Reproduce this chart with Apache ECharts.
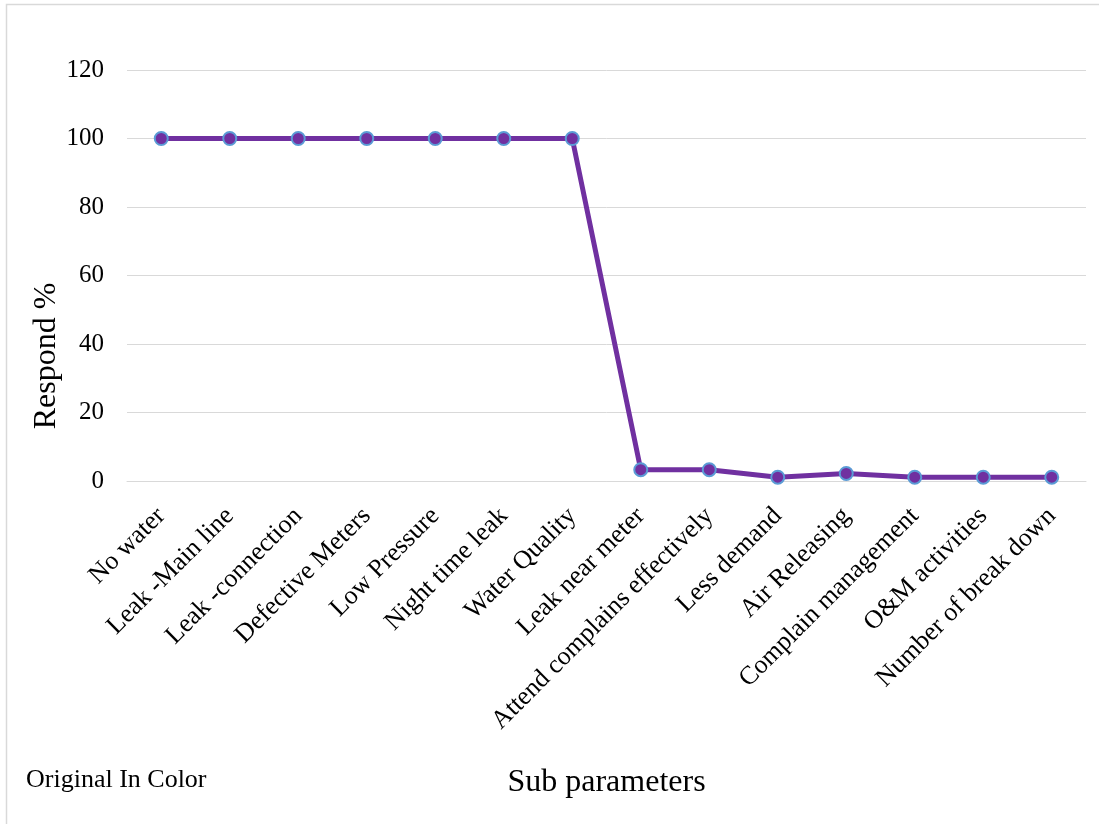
<!DOCTYPE html>
<html>
<head>
<meta charset="utf-8">
<script src="https://cdn.jsdelivr.net/npm/echarts@6/dist/echarts.min.js"></script>
<style>
  html, body { margin: 0; padding: 0; background: #ffffff; }
  #chart { width: 1099px; height: 824px; }
</style>
</head>
<body>
<div id="chart"></div>
<script>
// Sub parameters and the share of respondents (%) naming each one
const categories = [
  'No water', 'Leak -Main line', 'Leak -connection', 'Defective Meters',
  'Low Pressure', 'Night time leak', 'Water Quality', 'Leak near meter',
  'Attend complains effectively', 'Less demand', 'Air Releasing',
  'Complain management', 'O&M activities', 'Number of break down'
];
const respondPct = [100, 100, 100, 100, 100, 100, 100, 3.3, 3.3, 1.1, 2.2, 1.1, 1.1, 1.1];

const yTicks = { min: 0, max: 120, interval: 20 };

const serif = '"Liberation Serif", "Times New Roman", serif';

const chart = echarts.init(document.getElementById('chart'), null, { renderer: 'canvas' });

chart.setOption({
  backgroundColor: '#ffffff',
  animation: false,
  graphic: [
    {
      type: 'rect',
      shape: { x: 6.5, y: 4.5, width: 1200, height: 1000 },
      style: { fill: 'none', stroke: '#d9d9d9', lineWidth: 1.5 },
      z: -1
    },
    {
      type: 'text',
      left: 26,
      top: 767,
      style: { text: 'Original In Color', font: '26px ' + serif, fill: '#000000' }
    },
    {
      // vertical axis title
      type: 'text',
      x: 47,
      y: 356,
      rotation: Math.PI / 2,
      style: {
        text: 'Respond %',
        font: '32px ' + serif,
        fill: '#000000',
        align: 'center',
        verticalAlign: 'middle'
      }
    }
  ],
  grid: { left: 127, right: 13, top: 70, bottom: 343, containLabel: false },
  xAxis: {
    type: 'category',
    data: categories,
    boundaryGap: true,
    name: 'Sub parameters',
    nameLocation: 'middle',
    nameGap: 286,
    nameTextStyle: { fontFamily: serif, fontSize: 32, color: '#000000' },
    axisLine: { show: true, lineStyle: { color: '#d9d9d9', width: 1 } },
    axisTick: { show: false },
    axisLabel: {
      interval: 0,
      rotate: 45,
      margin: 31,
      fontFamily: serif,
      fontSize: 26,
      color: '#000000'
    },
    splitLine: { show: false }
  },
  yAxis: {
    type: 'value',
    min: yTicks.min,
    max: yTicks.max,
    interval: yTicks.interval,
    axisLine: { show: false },
    axisTick: { show: false },
    axisLabel: { margin: 23, fontFamily: serif, fontSize: 25, color: '#000000' },
    splitLine: { show: true, lineStyle: { color: '#d9d9d9', width: 1 } }
  },
  series: [
    {
      type: 'line',
      data: respondPct,
      symbol: 'circle',
      symbolSize: 13,
      lineStyle: { color: '#7030a0', width: 5 },
      itemStyle: { color: '#7030a0', borderColor: '#5b9bd5', borderWidth: 2 }
    }
  ]
});
</script>
</body>
</html>
